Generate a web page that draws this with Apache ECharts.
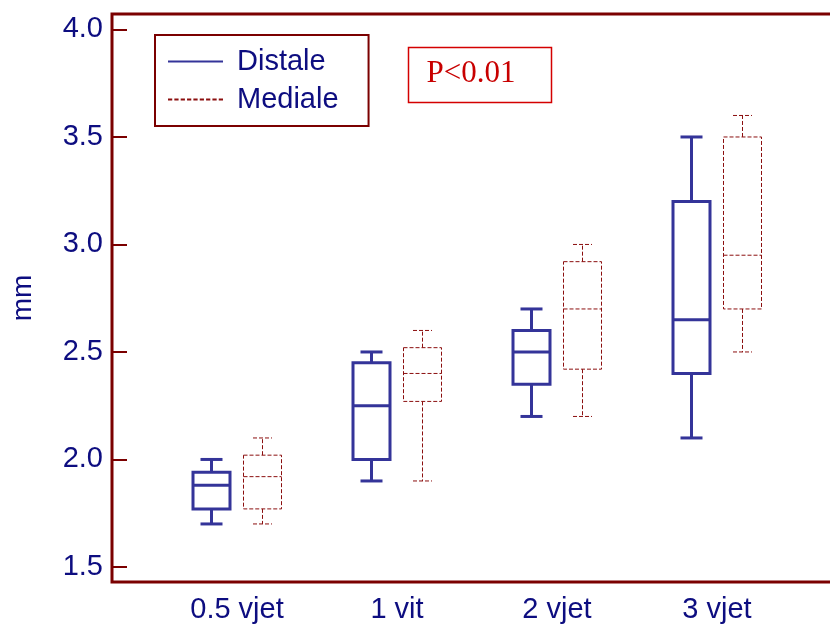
<!DOCTYPE html>
<html>
<head>
<meta charset="utf-8">
<script src="https://cdn.jsdelivr.net/npm/echarts@6/dist/echarts.min.js"></script>
<style>
html,body{margin:0;padding:0;background:#fff;}
#c{width:830px;height:627px;}
</style>
</head>
<body>
<div id="c"></div>
<script>
// ---- data ----
const categories = ['0.5 vjet', '1 vit', '2 vjet', '3 vjet'];
// [min, Q1, median, Q3, max]
const distale = [
  [1.70, 1.77, 1.88, 1.94, 2.00],
  [1.90, 2.00, 2.25, 2.45, 2.50],
  [2.20, 2.35, 2.50, 2.60, 2.70],
  [2.10, 2.40, 2.65, 3.20, 3.50]
];
const mediale = [
  [1.70, 1.77, 1.92, 2.02, 2.10],
  [1.90, 2.27, 2.40, 2.52, 2.60],
  [2.20, 2.42, 2.70, 2.92, 3.00],
  [2.50, 2.70, 2.95, 3.50, 3.60]
];
const yTicks = [1.5, 2.0, 2.5, 3.0, 3.5, 4.0];
const annotation = 'P<0.01';

// ---- styles ----
const NAVY = '#0d0d80';
const FRAME = '#7b0000';
const BLUE = '#343499';
const RED = '#8b0f0f';
const SANS = 'Liberation Sans, Arial, sans-serif';

function makeRender(offset, boxW, capW, lineStyle) {
  return function (params, api) {
    const x = api.value(0);
    const v = [api.value(1), api.value(2), api.value(3), api.value(4), api.value(5)];
    const cx = api.coord([x, v[2]])[0] + offset;
    const y = v.map(function (val) { return api.coord([x, val])[1]; });
    const l = cx - boxW / 2, r = cx + boxW / 2;
    const st = Object.assign({ fill: null }, lineStyle);
    const line = function (x1, y1, x2, y2) {
      return { type: 'line', shape: { x1: x1, y1: y1, x2: x2, y2: y2 }, style: st };
    };
    return {
      type: 'group',
      children: [
        { type: 'rect', shape: { x: l, y: y[3], width: boxW, height: y[1] - y[3] }, style: Object.assign({}, st, { fill: 'none' }) },
        line(l, y[2], r, y[2]),
        line(cx, y[3], cx, y[4]),
        line(cx, y[1], cx, y[0]),
        line(cx - capW / 2, y[4], cx + capW / 2, y[4]),
        line(cx - capW / 2, y[0], cx + capW / 2, y[0])
      ]
    };
  };
}

function toData(arr) {
  return arr.map(function (d, i) { return [i + 1].concat(d); });
}

const chart = echarts.init(document.getElementById('c'), null, { renderer: 'canvas' });
chart.setOption({
  animation: false,
  backgroundColor: '#fff',
  grid: {
    left: 112, right: -12, top: 14, bottom: 45,
    outerBoundsMode: 'none',
    containLabel: false,
    show: true, borderColor: FRAME, borderWidth: 3, backgroundColor: 'transparent'
  },
  legend: {
    left: 155, top: 35,
    orient: 'vertical',
    padding: [12, 30, 12, 13],
    itemGap: 9,
    itemWidth: 55,
    itemHeight: 2,
    symbolKeepAspect: false,
    borderColor: FRAME,
    borderWidth: 2,
    textStyle: { color: NAVY, fontSize: 29, fontFamily: SANS, padding: [0, 0, 0, 9] },
    data: [
      { name: 'Distale', icon: 'path://M0,0H55V2H0Z', itemStyle: { color: BLUE } },
      { name: 'Mediale', icon: 'path://M0,0h4v1h-4zM6,0h4v1h-4zM12,0h4v1h-4zM18,0h4v1h-4zM24,0h4v1h-4zM30,0h4v1h-4zM36,0h4v1h-4zM42,0h4v1h-4zM48,0h4v1h-4z', itemStyle: { color: RED } }
    ]
  },
  xAxis: {
    type: 'value',
    min: 0.21875, max: 4.78125,
    axisLine: { show: false },
    axisTick: { show: false },
    splitLine: { show: false },
    axisLabel: {
      customValues: [1, 2, 3, 4],
      formatter: function (v) { return categories[Math.round(v) - 1] || ''; },
      color: NAVY, fontSize: 29, margin: 13,
      fontFamily: SANS
    }
  },
  yAxis: {
    type: 'value',
    min: 1.43, max: 4.072,
    name: 'mm',
    nameLocation: 'middle',
    nameRotate: 90,
    nameGap: 75,
    nameTextStyle: { color: NAVY, fontSize: 28, fontFamily: SANS },
    axisLine: { show: false },
    splitLine: { show: false },
    axisTick: {
      show: true, inside: true, length: 15,
      customValues: yTicks,
      lineStyle: { color: FRAME, width: 2 }
    },
    axisLabel: {
      customValues: yTicks,
      formatter: function (v) { return v.toFixed(1); },
      color: NAVY, fontSize: 29, margin: 9,
      fontFamily: SANS
    }
  },
  graphic: [
    {
      type: 'rect', left: 406, top: 45,
      shape: { width: 143, height: 55 },
      style: { fill: 'none', stroke: '#d40000', lineWidth: 1.5 }
    },
    {
      type: 'text', x: 471, y: 74,
      style: {
        text: annotation, fill: '#c80000',
        font: '31px "Liberation Serif", "Times New Roman", serif',
        align: 'center', verticalAlign: 'middle'
      }
    }
  ],
  series: [
    {
      name: 'Distale', type: 'custom',
      renderItem: makeRender(-25.5, 37, 22, { stroke: BLUE, lineWidth: 3 }),
      encode: { x: 0, y: [1, 2, 3, 4, 5] },
      data: toData(distale),
      itemStyle: { color: BLUE }
    },
    {
      name: 'Mediale', type: 'custom',
      renderItem: makeRender(25.5, 38, 19, { stroke: RED, lineWidth: 1, lineDash: [4, 2] }),
      encode: { x: 0, y: [1, 2, 3, 4, 5] },
      data: toData(mediale),
      itemStyle: { color: RED }
    }
  ]
});
</script>
</body>
</html>
